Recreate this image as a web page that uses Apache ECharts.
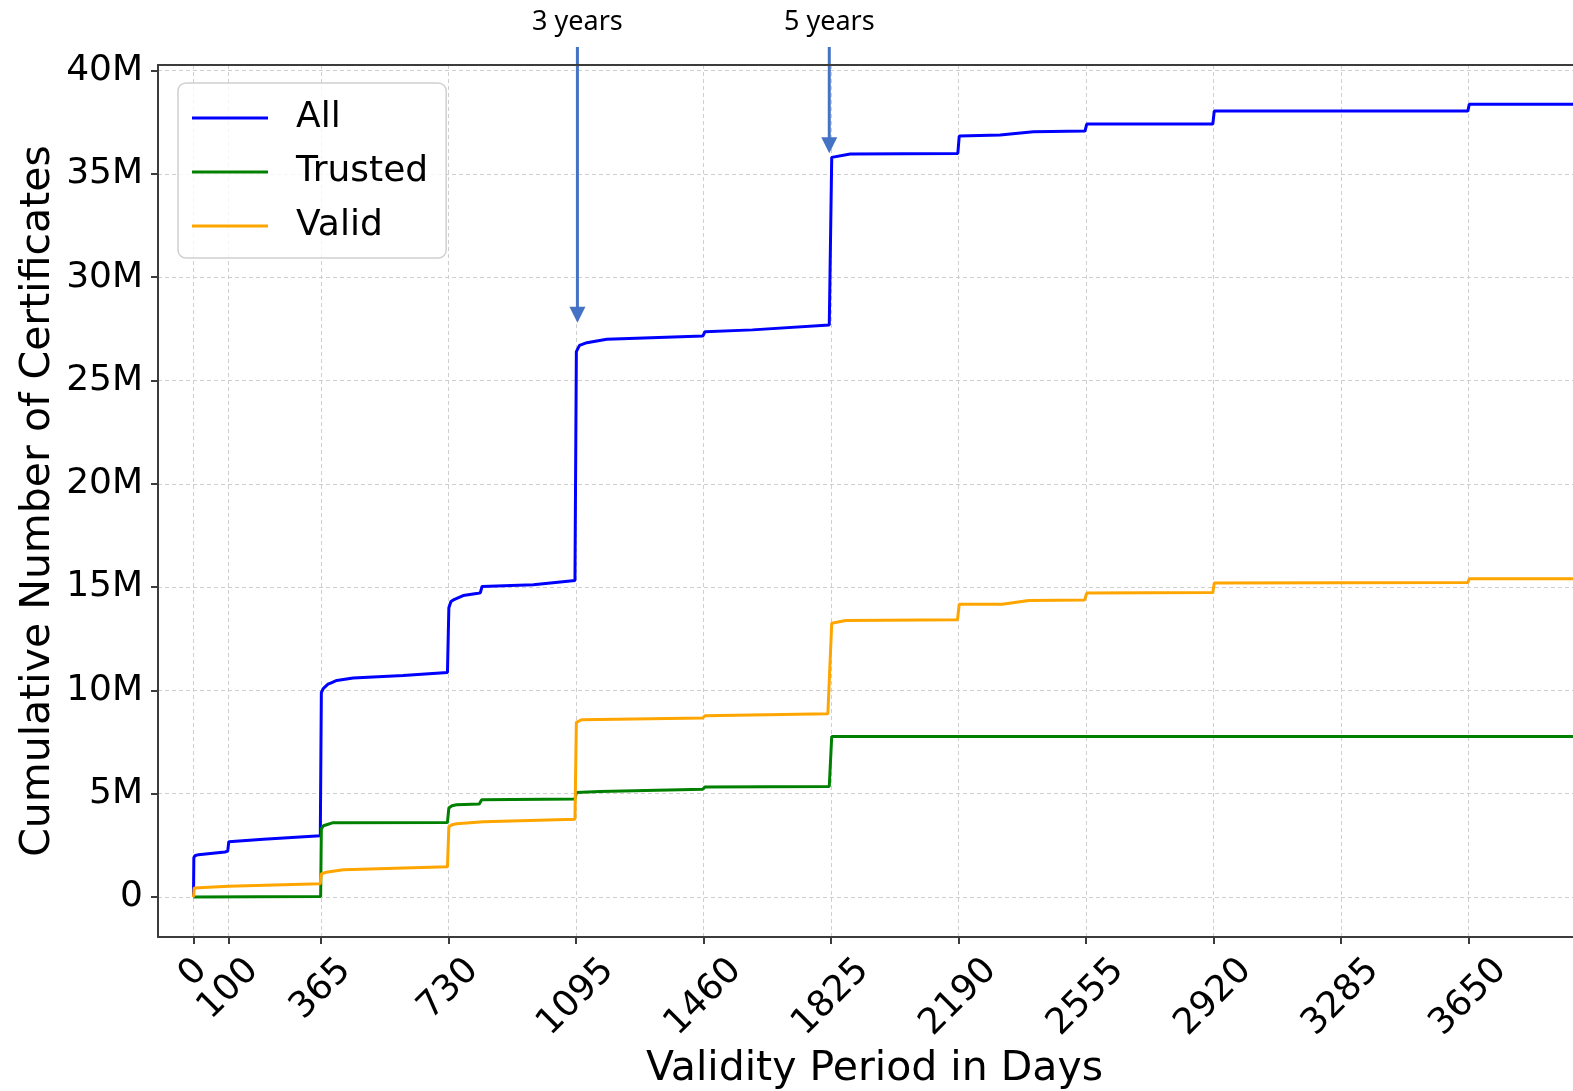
<!DOCTYPE html>
<html>
<head>
<meta charset="utf-8">
<script src="https://cdn.jsdelivr.net/npm/echarts@6/dist/echarts.min.js"></script>
<style>
  html, body { margin: 0; padding: 0; background: #fff; }
  #main { width: 1573px; height: 1091px; }
</style>
</head>
<body>
<div id="main"></div>
<script>
// 累计证书数量（单位：百万），按有效期天数
const allDays = [0, 1, 4, 14, 90, 98, 101, 200, 363, 366, 372, 385, 396, 410, 457, 600, 727, 731, 737, 744,
  772, 815, 821, 826, 973, 1092, 1096, 1105, 1126, 1183, 1458, 1464, 1600, 1820, 1827, 1880, 2188, 2192, 2309, 2404,
  2552, 2557, 2918, 2922, 3648, 3652, 4000];
const allValues = [0, 1.9, 2.0, 2.05, 2.18, 2.22, 2.68, 2.8, 2.97, 9.9, 10.1, 10.3, 10.38, 10.48, 10.6, 10.72, 10.87, 14.0, 14.3, 14.38,
  14.59, 14.7, 14.72, 15.03, 15.11, 15.32, 26.4, 26.7, 26.83, 27.0, 27.15, 27.36, 27.45, 27.69, 35.8, 35.96, 35.99, 36.83, 36.88, 37.04,
  37.07, 37.41, 37.41, 38.04, 38.04, 38.37, 38.37];

const trustedDays = [0, 364, 366, 372, 381, 400, 727, 731, 740, 753, 818, 825, 1092, 1096, 1164, 1458, 1464, 1820, 1827, 4000];
const trustedValues = [0, 0.03, 3.3, 3.45, 3.5, 3.6, 3.61, 4.31, 4.42, 4.47, 4.5, 4.71, 4.74, 5.06, 5.11, 5.22, 5.32, 5.35, 7.77, 7.77];

const validDays = [0, 2, 100, 363, 366, 380, 429, 727, 731, 740, 753, 830, 1092, 1096, 1111, 1458, 1464, 1816, 1827, 1867,
  2187, 2192, 2315, 2391, 2551, 2557, 2918, 2922, 3648, 3652, 4000];
const validValues = [0, 0.44, 0.52, 0.64, 1.12, 1.2, 1.32, 1.46, 3.4, 3.5, 3.55, 3.64, 3.76, 8.45, 8.58, 8.66, 8.77, 8.87, 13.25, 13.38,
  13.42, 14.17, 14.17, 14.35, 14.38, 14.71, 14.74, 15.2, 15.22, 15.4, 15.4];

// 刻度
const xTicks = [0, 100, 365, 730, 1095, 1460, 1825, 2190, 2555, 2920, 3285, 3650];
const yTicks = [0, 5, 10, 15, 20, 25, 30, 35, 40];

// 箭头标注
const noteLabels = ['3 years', '5 years'];
const noteDays = [1099, 1820];
const noteTips = [27.8, 36.0];

const zip = (xs, ys) => xs.map((x, i) => [x, ys[i]]);

const tickFont = 'DejaVu Sans';
const tickSize = 36;

// 旋转标签：用 padding 模拟 matplotlib 的居中旋转
let ctx = document.createElement('canvas').getContext('2d');
ctx.font = tickSize + 'px "' + tickFont + '"';
let xRich = {};
xTicks.forEach(v => {
  let w = ctx.measureText(String(v)).width;
  xRich['t' + v] = {
    fontSize: tickSize, fontFamily: tickFont, color: '#000',
    padding: [w / 2, w / 2, 0, 0]
  };
});

let chart = echarts.init(document.getElementById('main'));
const spine = { show: true, onZero: false, lineStyle: { color: '#3c3c3c', width: 2 } };
const grid = { show: true, lineStyle: { color: '#cfcfcf', width: 1, type: [4, 3] } };

let option = {
  animation: false,
  backgroundColor: '#fff',
  grid: { left: 158, right: 0, top: 65, bottom: 154, outerBoundsMode: 'none', containLabel: false },
  legend: {
    orient: 'vertical',
    left: 178,
    top: 83,
    padding: [17, 18, 14, 14],
    icon: 'rect',
    itemWidth: 76,
    itemHeight: 3,
    itemGap: 18,
    backgroundColor: 'rgba(255,255,255,0.8)',
    borderColor: '#d0d0d0',
    borderWidth: 1.5,
    borderRadius: 8,
    textStyle: { fontFamily: tickFont, fontSize: 36, lineHeight: 36, color: '#000', padding: [0, 0, 0, 23] },
    data: ['All', 'Trusted', 'Valid']
  },
  xAxis: [
    {
      type: 'value',
      min: -101.6,
      max: 3949,
      name: 'Validity Period in Days',
      nameLocation: 'middle',
      nameGap: 112,
      nameMoveOverlap: false,
      nameTextStyle: { fontFamily: tickFont, fontSize: 41, color: '#000', padding: [0, 0, 0, 18] },
      axisLine: spine,
      axisTick: { show: true, length: 7, customValues: xTicks, lineStyle: { color: '#3c3c3c', width: 2 } },
      axisLabel: {
        customValues: xTicks,
        rotate: 45,
        align: 'center',
        verticalAlign: 'middle',
        margin: 28,
        formatter: v => '{t' + v + '|' + v + '}',
        rich: xRich
      },
      splitLine: grid
    },
    {
      type: 'value',
      position: 'top',
      min: -101.6,
      max: 3949,
      axisLine: spine,
      axisTick: { show: false },
      axisLabel: { show: false },
      splitLine: { show: false }
    }
  ],
  yAxis: {
    type: 'value',
    min: -1.935,
    max: 40.27,
    name: 'Cumulative Number of Certificates',
    nameLocation: 'middle',
    nameGap: 99,
    nameMoveOverlap: false,
    nameTextStyle: { fontFamily: tickFont, fontSize: 41, color: '#000' },
    axisLine: spine,
    axisTick: { show: true, length: 7, customValues: yTicks, lineStyle: { color: '#3c3c3c', width: 2 } },
    axisLabel: {
      customValues: yTicks,
      margin: 15,
      fontFamily: tickFont,
      fontSize: tickSize,
      color: '#000',
      formatter: v => (v === 0 ? '0' : v + 'M')
    },
    splitLine: grid
  },
  series: [
    {
      name: 'All', type: 'line', showSymbol: false, symbol: 'none',
      color: '#0000ff', lineStyle: { width: 3 },
      data: zip(allDays, allValues)
    },
    {
      name: 'Trusted', type: 'line', showSymbol: false, symbol: 'none',
      color: '#008000', lineStyle: { width: 3 },
      data: zip(trustedDays, trustedValues)
    },
    {
      name: 'Valid', type: 'line', showSymbol: false, symbol: 'none',
      color: '#ffa500', lineStyle: { width: 3 },
      data: zip(validDays, validValues)
    }
  ]
};
chart.setOption(option);

// 标注箭头（3 years / 5 years）
let graphics = [];
noteLabels.forEach((label, i) => {
  let p = chart.convertToPixel({ gridIndex: 0 }, [noteDays[i], noteTips[i]]);
  let x = p[0], tip = p[1];
  graphics.push({
    type: 'text',
    style: { text: label, x: x, y: 22, align: 'center', verticalAlign: 'middle',
      font: '27px "Noto Sans"', fill: '#000' }
  });
  graphics.push({
    type: 'line',
    shape: { x1: x, y1: 47, x2: x, y2: tip - 12 },
    style: { stroke: '#4472C4', lineWidth: 3 }
  });
  graphics.push({
    type: 'polygon',
    shape: { points: [[x - 8, tip - 16], [x + 8, tip - 16], [x, tip]] },
    style: { fill: '#4472C4' }
  });
});
chart.setOption({ graphic: graphics });
</script>
</body>
</html>
